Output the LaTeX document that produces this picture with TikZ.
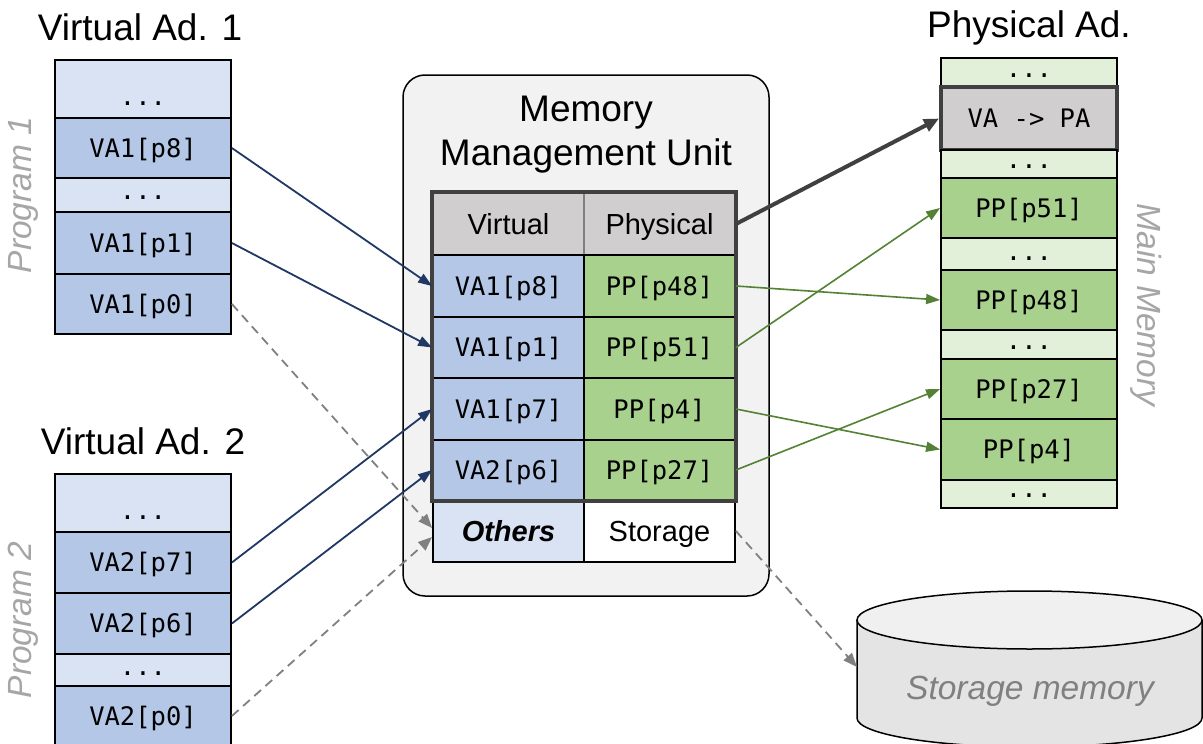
\documentclass[tikz,border=0pt]{standalone}
\usepackage{fontspec}
\setmainfont{Liberation Sans}
\newfontfamily\monof{DejaVu Sans Mono}
\usetikzlibrary{arrows.meta}
\definecolor{vdark}{HTML}{B4C7E7}
\definecolor{vlight}{HTML}{DAE3F3}
\definecolor{pdark}{HTML}{A9D18E}
\definecolor{plight}{HTML}{E2F0D9}
\definecolor{hdr}{HTML}{D0CECE}
\definecolor{navy}{HTML}{203864}
\definecolor{grn}{HTML}{548235}
\definecolor{dgray}{HTML}{404040}
\definecolor{mmufill}{HTML}{F2F2F2}
\definecolor{lblgray}{HTML}{A6A6A6}
\definecolor{midgray}{HTML}{808080}
\definecolor{cyltop}{HTML}{F0F0F0}
\definecolor{cylbody}{HTML}{E4E4E4}
\begin{document}
\begin{tikzpicture}[x=1pt,y=-1pt,
  box/.style={draw=black, line width=1.8pt, inner sep=0pt, text height=18.5pt, text depth=0pt,
    font=\monof\fontsize{25.5}{30}\selectfont},
  colw/.style={minimum width=176pt},
  tabw/.style={minimum width=151pt},
  vd/.style={box, fill=vdark},
  vl/.style={box, fill=vlight},
  pd/.style={box, fill=pdark},
  pl/.style={box, fill=plight},
  sanscell/.style={box, text height=20.5pt, font=\fontsize{29}{33}\selectfont},
  dotsty/.style={anchor=base, inner sep=0pt, font=\monof\fontsize{25.5}{30}\selectfont},
  title/.style={inner sep=0pt, font=\fontsize{37}{44}\selectfont},
  sidelbl/.style={inner sep=0pt, text=lblgray, font=\itshape\fontsize{33.5}{40}\selectfont},
  navyarr/.style={draw=navy, line width=1.8pt, -{Triangle[length=14pt,width=10pt]}},
  grnarr/.style={draw=grn, line width=1.6pt, -{Triangle[length=14pt,width=10pt]}},
  dasharr/.style={draw=midgray, line width=1.8pt, dash pattern=on 9pt off 6pt, -{Triangle[length=14pt,width=11pt]}},
  thickarr/.style={draw=dgray, line width=4pt, -{Triangle[length=15pt,width=13pt]}}
]
\useasboundingbox (0,0) rectangle (1203,744);
\fill[white] (0,0) rectangle (1203,744);

% ---------- titles ----------
\node[title] (tva1) at (140,27) {Virtual Ad. 1};
\node[title] (tva2) at (143,441) {Virtual Ad. 2};
\node[title] (tpa) at (1029,28) {Physical Ad.};
\node[sidelbl, rotate=90] (prog1) at (23,195) {Program 1};
\node[sidelbl, rotate=90] (prog2) at (23,620) {Program 2};
\node[sidelbl, rotate=-90] (mainm) at (1146,305) {Main Memory};

% ---------- virtual address space 1 ----------
\node[vl, colw, minimum height=58pt] (d1a) at (143,89) {};
\node[vd, colw, minimum height=60pt] (v1p8) at (143,148) {VA1[p8]};
\node[vl, colw, minimum height=34pt] (d1b) at (143,195) {};
\node[vd, colw, minimum height=62pt] (v1p1) at (143,243) {VA1[p1]};
\node[vd, colw, minimum height=60pt] (v1p0) at (143,304) {VA1[p0]};
\node[dotsty] (t1a) at (143,105) {...};
\node[dotsty] (t1b) at (143,199) {...};

% ---------- virtual address space 2 ----------
\node[vl, colw, minimum height=58pt] (d2a) at (143,503) {};
\node[vd, colw, minimum height=61pt] (v2p7) at (143,562.5) {VA2[p7]};
\node[vd, colw, minimum height=61pt] (v2p6) at (143,623.5) {VA2[p6]};
\node[vl, colw, minimum height=32pt] (d2b) at (143,670) {};
\node[vd, colw, minimum height=60pt] (v2p0) at (143,716) {VA2[p0]};
\node[dotsty] (t2a) at (143,519) {...};
\node[dotsty] (t2b) at (143,675) {...};

% ---------- physical memory ----------
\node[pl, colw, minimum height=29pt] (r1) at (1029,72.5) {};
\node[box, colw, fill=hdr, draw=dgray, line width=4pt, minimum height=63pt] (vapa) at (1029,118.5) {VA -> PA};
\node[pl, colw, minimum height=28pt] (r2) at (1029,164) {};
\node[pd, colw, minimum height=60pt] (pp51) at (1029,208) {PP[p51]};
\node[pl, colw, minimum height=32pt] (r3) at (1029,254) {};
\node[pd, colw, minimum height=60pt] (pp48) at (1029,300) {PP[p48]};
\node[pl, colw, minimum height=29pt] (r4) at (1029,344.5) {};
\node[pd, colw, minimum height=60pt] (pp27) at (1029,389) {PP[p27]};
\node[pd, colw, minimum height=61pt] (pp4) at (1029,449.5) {PP[p4]};
\node[pl, colw, minimum height=28pt] (r5) at (1029,494) {};
\node[dotsty] (tr1) at (1029,77) {...};
\node[dotsty] (tr2) at (1029,168) {...};
\node[dotsty] (tr3) at (1029,260) {...};
\node[dotsty] (tr4) at (1029,349) {...};
\node[dotsty] (tr5) at (1029,497) {...};

% ---------- MMU ----------
\node[draw=black, line width=1.5pt, fill=mmufill, rounded corners=22pt,
      minimum width=366pt, minimum height=521pt, inner sep=0pt] (mmu) at (586,335.5) {};
\node[title, align=center] (mmut) at (586,135) {Memory\\Management Unit};

\node[sanscell, tabw, fill=hdr, draw=midgray, minimum height=62pt] (hv) at (508.5,224) {Virtual};
\node[sanscell, tabw, fill=hdr, draw=midgray, minimum height=62pt] (hp) at (659.5,224) {Physical};
\node[vd, tabw, minimum height=62pt] (t1v) at (508.5,286) {VA1[p8]};
\node[pd, tabw, minimum height=62pt] (t1p) at (659.5,286) {PP[p48]};
\node[vd, tabw, minimum height=61pt] (t2v) at (508.5,347.5) {VA1[p1]};
\node[pd, tabw, minimum height=61pt] (t2p) at (659.5,347.5) {PP[p51]};
\node[vd, tabw, minimum height=62pt] (t3v) at (508.5,409) {VA1[p7]};
\node[pd, tabw, minimum height=62pt] (t3p) at (659.5,409) {PP[p4]};
\node[vd, tabw, minimum height=60pt] (t4v) at (508.5,470) {VA2[p6]};
\node[pd, tabw, minimum height=60pt] (t4p) at (659.5,470) {PP[p27]};
\node[sanscell, tabw, fill=vlight, minimum height=62pt, font=\bfseries\itshape\fontsize{29}{33}\selectfont] (ov) at (508.5,531) {Others};
\node[sanscell, tabw, fill=white, minimum height=62pt] (os) at (659.5,531) {Storage};
\draw[dgray, line width=4pt] (hv.north west) rectangle (t4p.south east);

% ---------- storage cylinder ----------
\draw[line width=1.5pt, fill=cylbody] (857,620) -- (857,718)
   arc[start angle=180, end angle=0, x radius=172.5, y radius=29] -- (1202,620);
\draw[line width=1.5pt, fill=cyltop] (1029.5,620) ellipse[x radius=172.5, y radius=29];
\node[inner sep=0pt, text=midgray, font=\itshape\fontsize{33.5}{40}\selectfont] (smem) at (1030,691) {Storage memory};
\coordinate (cylw) at (857,667);

% ---------- connectors ----------
\draw[navyarr] (v1p8.east) -- (t1v.west);
\draw[navyarr] (v1p1.east) -- (t2v.west);
\draw[navyarr] (v2p7.east) -- (t3v.west);
\draw[navyarr] (v2p6.east) -- (t4v.west);

\draw[dasharr] (v1p0.east) -- ([yshift=3pt]ov.west);
\draw[dasharr] (v2p0.east) -- ([yshift=-6pt]ov.west);
\draw[dasharr] (os.east) -- (cylw);

\draw[thickarr] (hp.east) -- (vapa.west);
\draw[grnarr] (t1p.east) -- (pp48.west);
\draw[grnarr] (t2p.east) -- (pp51.west);
\draw[grnarr] (t3p.east) -- (pp4.west);
\draw[grnarr] (t4p.east) -- (pp27.west);
\end{tikzpicture}
\end{document}
